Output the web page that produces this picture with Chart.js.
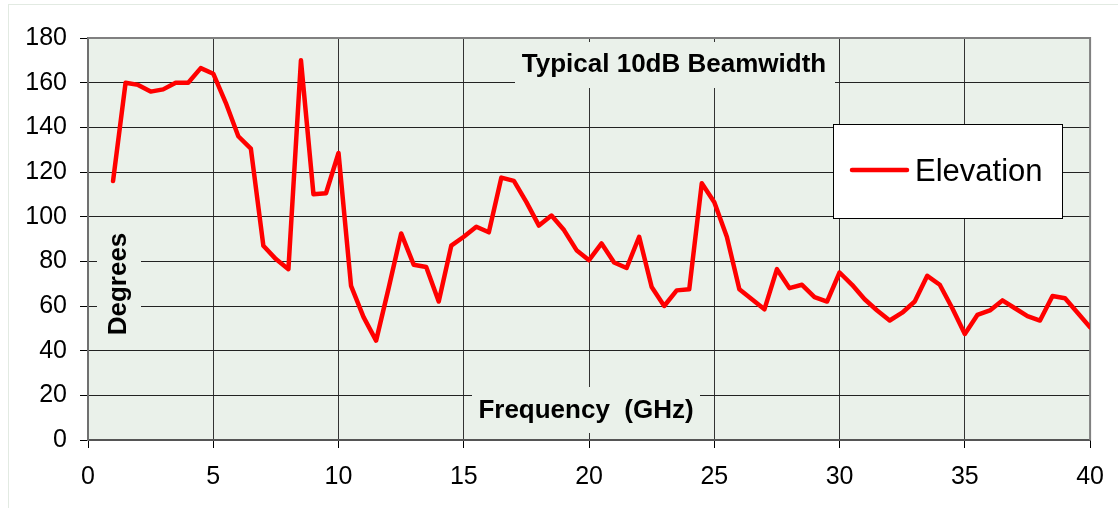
<!DOCTYPE html>
<html>
<head>
<meta charset="utf-8">
<script src="https://cdn.jsdelivr.net/npm/chart.js@4.4.1/dist/chart.umd.min.js"></script>
<style>
  html, body { margin: 0; padding: 0; background: #ffffff; }
  #wrap { width: 1118px; height: 508px; }
</style>
</head>
<body>
<div id="wrap"><canvas id="c" width="1118" height="508"></canvas></div>
<script>
// ---- Data ----
const frequencies = [
  1, 1.5, 2, 2.5, 3, 3.5, 4, 4.5, 5, 5.5,
  6, 6.5, 7, 7.5, 8, 8.5, 9, 9.5, 10, 10.5,
  11, 11.5, 12, 12.5, 13, 13.5, 14, 14.5, 15, 15.5,
  16, 16.5, 17, 17.5, 18, 18.5, 19, 19.5, 20, 20.5,
  21, 21.5, 22, 22.5, 23, 23.5, 24, 24.5, 25, 25.5,
  26, 26.5, 27, 27.5, 28, 28.5, 29, 29.5, 30, 30.5,
  31, 31.5, 32, 32.5, 33, 33.5, 34, 34.5, 35, 35.5,
  36, 36.5, 37, 37.5, 38, 38.5, 39, 39.5, 40
];
const elevation = [
  116, 160, 159, 156, 157, 160, 160, 166.5, 164, 151,
  136, 130.5, 87, 81, 76.5, 170, 110, 110.5, 128.5, 69,
  55, 44.5, 68, 92.5, 78.5, 77.5, 62, 87, 91, 95.5,
  93, 117.5, 116, 106.5, 96, 100.5, 94, 85, 80.5, 88,
  79.5, 77, 91, 68.5, 60, 67, 67.5, 115, 106.5, 91,
  67.5, 63, 58.5, 76.5, 68, 69.5, 64, 62, 75, 69.5,
  63, 58, 53.5, 57, 62, 73.5, 69.5, 59, 47.5, 56,
  58, 62.5, 59, 55.5, 53.5, 64.5, 63.5, 57, 50.5
];
const seriesName = "Elevation";
const chartTitle = "Typical 10dB Beamwidth";
const xAxisTitle = "Frequency  (GHz)";
const yAxisTitle = "Degrees";
const xTickStep = 5, xMin = 0, xMax = 40;
const yTickStep = 20, yMin = 0, yMax = 180;

const FONT = "'Liberation Sans', Arial, Helvetica, sans-serif";
const PLOT_BG = "#EAF1EA";

const points = frequencies.map((f, i) => ({ x: f, y: elevation[i] }));

const decorPlugin = {
  id: 'decor',
  beforeDraw(chart) {
    const { ctx, chartArea: a } = chart;
    ctx.save();
    ctx.fillStyle = '#ffffff';
    ctx.fillRect(0, 0, chart.width, chart.height);
    ctx.strokeStyle = '#E2EAE2';
    ctx.lineWidth = 1;
    ctx.strokeRect(8.5, 4.5, chart.width + 10, chart.height + 10);
    ctx.fillStyle = PLOT_BG;
    ctx.fillRect(a.left, a.top, a.right - a.left, a.bottom - a.top);
    ctx.restore();
  },
  beforeDatasetsDraw(chart) {
    const { ctx, chartArea: a } = chart;
    ctx.save();
    ctx.strokeStyle = '#808080';
    ctx.lineWidth = 2;
    ctx.beginPath();
    ctx.moveTo(a.left, a.top);
    ctx.lineTo(a.right, a.top);
    ctx.lineTo(a.right, a.bottom);
    ctx.stroke();

    ctx.font = "bold 26px " + FONT;
    ctx.textAlign = 'center';
    ctx.textBaseline = 'middle';

    ctx.fillStyle = PLOT_BG;
    ctx.fillRect(515, 42, 320, 46);
    ctx.fillStyle = '#000';
    ctx.fillText(chartTitle, 674, 65);

    ctx.fillStyle = PLOT_BG;
    ctx.fillRect(472, 387, 228, 46);
    ctx.fillStyle = '#000';
    ctx.fillText(xAxisTitle, 586, 411);

    ctx.fillStyle = PLOT_BG;
    ctx.fillRect(97, 228, 44, 112);
    ctx.translate(119, 284);
    ctx.rotate(-Math.PI / 2);
    ctx.fillStyle = '#000';
    ctx.fillText(yAxisTitle, 0, 0);
    ctx.restore();
  },
  afterDatasetsDraw(chart) {
    const { ctx } = chart;
    const ds = chart.data.datasets[0];
    ctx.save();
    ctx.fillStyle = '#ffffff';
    ctx.fillRect(833, 124, 229, 94);
    ctx.strokeStyle = '#000';
    ctx.lineWidth = 1;
    ctx.strokeRect(833.5, 124.5, 229, 94);
    ctx.strokeStyle = ds.borderColor;
    ctx.lineWidth = 4.5;
    ctx.lineCap = 'round';
    ctx.beginPath();
    ctx.moveTo(852, 170);
    ctx.lineTo(907, 170);
    ctx.stroke();
    ctx.fillStyle = '#000';
    ctx.font = "31px " + FONT;
    ctx.textAlign = 'left';
    ctx.textBaseline = 'middle';
    ctx.fillText(ds.label, 915, 172);
    ctx.restore();
  }
};

new Chart(document.getElementById('c'), {
  type: 'line',
  data: {
    datasets: [{
      label: seriesName,
      data: points,
      borderColor: '#FF0000',
      backgroundColor: '#FF0000',
      borderWidth: 4.5,
      pointRadius: 0,
      tension: 0,
      borderJoinStyle: 'round',
      borderCapStyle: 'round',
      fill: false
    }]
  },
  options: {
    responsive: false,
    animation: false,
    devicePixelRatio: 1,
    layout: { padding: { left: 0, top: 38, right: 25, bottom: 0 } },
    plugins: {
      legend: { display: false },
      tooltip: { enabled: false },
      title: { display: false }
    },
    scales: {
      x: {
        type: 'linear',
        min: xMin, max: xMax,
        afterFit(scale) { scale.height = 68; },
        ticks: {
          stepSize: xTickStep,
          color: '#000',
          font: { family: FONT, size: 25 },
          padding: 14,
          maxRotation: 0
        },
        grid: {
          color: '#333333',
          lineWidth: 1,
          tickLength: 8,
          tickColor: '#000'
        },
        border: { display: true, color: '#555555', width: 2 }
      },
      y: {
        type: 'linear',
        min: yMin, max: yMax,
        afterFit(scale) { scale.width = 88; },
        ticks: {
          stepSize: yTickStep,
          color: '#000',
          font: { family: FONT, size: 25 },
          padding: 13
        },
        grid: {
          color: '#222222',
          lineWidth: 1,
          tickLength: 8,
          tickColor: '#000'
        },
        border: { display: true, color: '#707070', width: 2 }
      }
    }
  },
  plugins: [decorPlugin]
});
</script>
</body>
</html>
